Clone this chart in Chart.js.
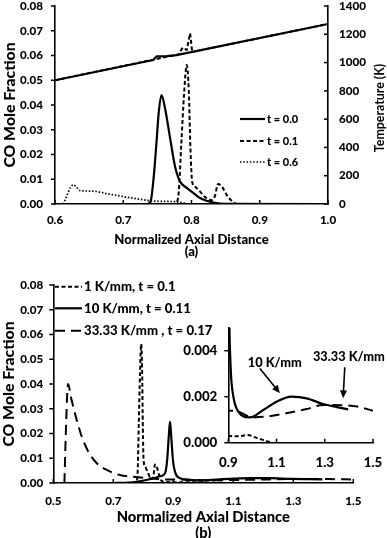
<!DOCTYPE html>
<html>
<head>
<meta charset="utf-8">
<script src="https://cdn.jsdelivr.net/npm/chart.js@4.4.1/dist/chart.umd.min.js"></script>
<style>
  html, body { margin: 0; padding: 0; background: #fff; }
  #wrap { position: relative; width: 387px; height: 538px; overflow: hidden; }
  canvas { position: absolute; }
</style>
</head>
<body>
<div id="wrap">
  <canvas id="chartA" width="387" height="262" style="left:0;top:0"></canvas>
  <canvas id="chartB" width="387" height="276" style="left:0;top:262px"></canvas>
  <canvas id="chartInset" width="227" height="168" style="left:160px;top:312px"></canvas>
</div>
<script>
// ---- panel (a): CO mole fraction vs normalized axial distance
const coX_t00 = [0.6, 0.735, 0.74, 0.745, 0.749, 0.752, 0.756, 0.761, 0.769, 0.776, 0.783, 0.793, 0.803, 0.8125, 0.822, 0.832, 0.85, 1.0];
const coY_t00 = [0, 0, 0.001, 0.012, 0.026, 0.037, 0.044, 0.039, 0.026, 0.015, 0.0092, 0.0065, 0.0044, 0.0024, 0.0013, 0.0006, 0.0001, 0];
const coX_t01 = [0.6, 0.776, 0.781, 0.785, 0.789, 0.793, 0.796, 0.7985, 0.801, 0.805, 0.8125, 0.822, 0.829, 0.834, 0.839, 0.845, 0.852, 0.86, 0.868, 1.0];
const coY_t01 = [0, 0, 0.004, 0.024, 0.044, 0.0562, 0.046, 0.022, 0.009, 0.007, 0.005, 0.0023, 0.0015, 0.003, 0.0081, 0.0068, 0.0035, 0.001, 0, 0];
const coX_t06 = [0.612, 0.627, 0.637, 0.656, 0.676, 0.70, 0.7245, 0.744, 0.778, 0.79];
const coY_t06 = [0, 0.0077, 0.0054, 0.0052, 0.0042, 0.003, 0.0019, 0.0012, 0.0009, 0.0004];

// ---- panel (a): temperature (K), right axis
const tempX_t00 = [0.6, 0.744, 0.749, 0.764, 0.778, 1.0];
const tempY_t00 = [875, 1018, 1044, 1046, 1053, 1273];
const tempX_t01 = [0.6, 0.781, 0.787, 0.793, 0.798, 0.801, 1.0];
const tempY_t01 = [875, 1058, 1106, 1089, 1207, 1075, 1273];

// ---- panel (b): three heating rates
const bX_1K = [0.7, 0.776, 0.781, 0.785, 0.789, 0.793, 0.796, 0.7985, 0.801, 0.805, 0.8125, 0.822, 0.829, 0.834, 0.839, 0.845, 0.852, 0.86, 0.875, 0.9, 0.94, 0.98, 1.02, 1.05, 1.08];
const bY_1K = [0, 0, 0.004, 0.024, 0.044, 0.0562, 0.046, 0.022, 0.009, 0.007, 0.005, 0.0023, 0.0015, 0.003, 0.0075, 0.0065, 0.0035, 0.001, 0.0004, 0.0003, 0.00028, 0.00033, 0.0002, 0.0001, 0];
const bX_10K = [0.7, 0.75, 0.778, 0.81, 0.833, 0.855, 0.867, 0.875, 0.88, 0.885, 0.889, 0.893, 0.897, 0.9, 0.905, 0.911, 0.921, 0.941, 0.99, 1.045, 1.10, 1.162, 1.225, 1.293, 1.35, 1.397];
const bY_10K = [0, 0.0002, 0.0005, 0.0012, 0.0019, 0.0027, 0.0032, 0.005, 0.01, 0.019, 0.0248, 0.019, 0.012, 0.008, 0.0048, 0.003, 0.002, 0.00135, 0.0011, 0.00142, 0.00178, 0.002, 0.00193, 0.00168, 0.00155, 0.00145];
const bX_33K = [0.537, 0.543, 0.549, 0.561, 0.578, 0.595, 0.617, 0.645, 0.678, 0.722, 0.767, 0.822, 0.878, 0.928, 1.0, 1.07, 1.14, 1.22, 1.293, 1.417, 1.5];
const bY_33K = [0, 0.025, 0.040, 0.0335, 0.0255, 0.0187, 0.0126, 0.008, 0.0053, 0.0032, 0.0025, 0.0019, 0.0014, 0.00139, 0.0011, 0.00115, 0.00128, 0.00145, 0.00164, 0.0016, 0.00139];

const labelsA = ["t = 0.0", "t = 0.1", "t = 0.6"];
const labelsB = ["1 K/mm, t = 0.1", "10 K/mm, t = 0.11", "33.33 K/mm , t = 0.17"];

const pts = (xs, ys) => xs.map((x, i) => ({ x, y: ys[i] }));

const WEIGHT = 900;
Chart.defaults.font.family = "Lato";
Chart.defaults.font.weight = WEIGHT;
Chart.defaults.color = "#000";

// font size that makes a string about as wide as it is in the original
const measureCtx = document.createElement("canvas").getContext("2d");
function fitFont(text, width) {
    measureCtx.font = WEIGHT + " 100px Lato";
    return Math.round(100 * width / measureCtx.measureText(text).width * 10) / 10;
}
const tickSize = fitFont("0.08", 23);
const insetTickSize = fitFont("0.004", 34);
const xTitleSizeA = fitFont("Normalized Axial Distance", 155);
const xTitleSizeB = fitFont("Normalized Axial Distance", 173);
const yTitleSize = fitFont("CO Mole Fraction", 125);
const tempTitleSize = fitFont("Temperature (K)", 89);
const keySizeA = fitFont("t = 0.0", 31);
const keySizeB = fitFont("10 K/mm, t = 0.11", 107);
const calloutSize = fitFont("33.33 K/mm", 72);

// pin the scale boxes so the plot areas land where the original ones are
function fixSize(w, h) {
    return scale => {
        if (w != null) scale.width = w;
        if (h != null) scale.height = h;
        scale.paddingLeft = 0;
        scale.paddingRight = 0;
        scale.paddingTop = 0;
        scale.paddingBottom = 0;
    };
}

const noGrid = { display: false, drawTicks: false };
const axisLine = { color: "#000", width: 1.6 };

// short tick marks; len > 0 points outward, len < 0 points into the plot
const tickMarks = {
    id: "tickMarks",
    afterDraw(chart, args, opts) {
        const ctx = chart.ctx;
        ctx.save();
        ctx.strokeStyle = "#000";
        ctx.lineWidth = 1.5;
        (opts.marks || []).forEach(m => {
            const s = chart.scales[m.id];
            s.ticks.forEach(t => {
                const p = s.getPixelForValue(t.value);
                ctx.beginPath();
                if (s.isHorizontal()) {
                    ctx.moveTo(p, s.top);
                    ctx.lineTo(p, s.top + m.len);
                } else if (s.position === "left") {
                    ctx.moveTo(s.right, p);
                    ctx.lineTo(s.right - m.len, p);
                } else {
                    ctx.moveTo(s.left, p);
                    ctx.lineTo(s.left + m.len, p);
                }
                ctx.stroke();
            });
        });
        ctx.restore();
    }
};

// legend drawn as line samples + text at fixed spots
const lineKey = {
    id: "lineKey",
    afterDraw(chart, args, opts) {
        if (!opts.items) return;
        const ctx = chart.ctx;
        ctx.save();
        ctx.font = WEIGHT + " " + opts.size + "px Lato";
        ctx.fillStyle = "#000";
        ctx.textBaseline = "middle";
        opts.items.forEach((it, i) => {
            const ds = chart.data.datasets[it.ds];
            const y = opts.y[i];
            ctx.strokeStyle = "#000";
            ctx.lineWidth = ds.borderWidth;
            ctx.setLineDash(ds.borderDash || []);
            ctx.beginPath();
            ctx.moveTo(opts.x0, y);
            ctx.lineTo(opts.x1, y);
            ctx.stroke();
            ctx.setLineDash([]);
            ctx.fillText(it.text, opts.tx, y);
        });
        ctx.restore();
    }
};

// rotated title for the right axis (reads bottom to top)
const sideTitle = {
    id: "sideTitle",
    afterDraw(chart, args, opts) {
        if (!opts.text) return;
        const ctx = chart.ctx;
        const a = chart.chartArea;
        ctx.save();
        ctx.font = "bold " + opts.size + "px Lato";
        ctx.fillStyle = "#000";
        ctx.textAlign = "center";
        ctx.textBaseline = "middle";
        ctx.translate(opts.x, (a.top + a.bottom) / 2 + (opts.dy || 0));
        ctx.rotate(-Math.PI / 2);
        ctx.fillText(opts.text, 0, 0);
        ctx.restore();
    }
};

// callout texts and arrows in the inset, placed in data units
const callouts = {
    id: "callouts",
    afterDraw(chart, args, opts) {
        if (!opts.items) return;
        const ctx = chart.ctx;
        const sx = chart.scales.x, sy = chart.scales.y;
        ctx.save();
        ctx.font = WEIGHT + " " + opts.size + "px Lato";
        ctx.fillStyle = "#000";
        ctx.strokeStyle = "#000";
        ctx.textAlign = "center";
        ctx.textBaseline = "middle";
        opts.items.forEach(c => {
            ctx.fillText(c.text, sx.getPixelForValue(c.tx), sy.getPixelForValue(c.ty));
            const x0 = sx.getPixelForValue(c.from[0]), y0 = sy.getPixelForValue(c.from[1]);
            const x1 = sx.getPixelForValue(c.to[0]), y1 = sy.getPixelForValue(c.to[1]);
            const ang = Math.atan2(y1 - y0, x1 - x0);
            const hl = 8, hw = 3.5;
            ctx.lineWidth = 1.6;
            ctx.beginPath();
            ctx.moveTo(x0, y0);
            ctx.lineTo(x1 - Math.cos(ang) * hl * 0.8, y1 - Math.sin(ang) * hl * 0.8);
            ctx.stroke();
            ctx.beginPath();
            ctx.moveTo(x1, y1);
            ctx.lineTo(x1 - Math.cos(ang) * hl - Math.sin(ang) * hw, y1 - Math.sin(ang) * hl + Math.cos(ang) * hw);
            ctx.lineTo(x1 - Math.cos(ang) * hl + Math.sin(ang) * hw, y1 - Math.sin(ang) * hl - Math.cos(ang) * hw);
            ctx.closePath();
            ctx.fill();
        });
        ctx.restore();
    }
};

const solid = { borderColor: "#000", borderWidth: 2.2, borderDash: [] };
const shortDash = { borderColor: "#000", borderWidth: 2, borderDash: [4, 2.5] };
const dotted = { borderColor: "#000", borderWidth: 1.7, borderDash: [1.5, 1.8] };
const longDash = { borderColor: "#000", borderWidth: 2, borderDash: [10, 6] };

const baseOptions = {
    responsive: false,
    animation: false,
    events: [],
    elements: {
        point: { radius: 0 },
        line: { cubicInterpolationMode: "monotone", borderJoinStyle: "round", fill: false }
    }
};

// ---------- panel (a)
new Chart(document.getElementById("chartA"), {
    type: "line",
    data: {
        datasets: [
            { label: labelsA[0], data: pts(coX_t00, coY_t00), yAxisID: "y", ...solid },
            { label: labelsA[1], data: pts(coX_t01, coY_t01), yAxisID: "y", ...shortDash },
            { label: labelsA[2], data: pts(coX_t06, coY_t06), yAxisID: "y", ...dotted },
            { label: "T " + labelsA[0], data: pts(tempX_t00, tempY_t00), yAxisID: "y1", ...solid, cubicInterpolationMode: "default", tension: 0 },
            { label: "T " + labelsA[1], data: pts(tempX_t01, tempY_t01), yAxisID: "y1", ...shortDash, cubicInterpolationMode: "default", tension: 0 }
        ]
    },
    options: {
        ...baseOptions,
        layout: { padding: { top: 6, left: 0, right: 0, bottom: 0 } },
        plugins: {
            legend: { display: false },
            tooltip: { enabled: false },
            tickMarks: { marks: [{ id: "x", len: -4 }, { id: "y", len: 4 }, { id: "y1", len: -4 }] },
            lineKey: {
                size: keySizeA, x0: 240, x1: 265, tx: 267, y: [119, 141, 162],
                items: [{ ds: 0, text: labelsA[0] }, { ds: 1, text: labelsA[1] }, { ds: 2, text: labelsA[2] }]
            },
            sideTitle: { text: "Temperature (K)", size: tempTitleSize, x: 380, dy: 3 }
        },
        scales: {
            x: {
                type: "linear", min: 0.6, max: 1.0,
                grid: noGrid, border: axisLine,
                ticks: { stepSize: 0.1, padding: 9, font: { size: tickSize }, callback: v => v.toFixed(1) },
                title: { display: true, text: ["Normalized Axial Distance", "(a)"], font: { size: xTitleSizeA, lineHeight: 12 / xTitleSizeA }, padding: { top: 0, bottom: 4 } },
                afterFit: fixSize(null, 58)
            },
            y: {
                position: "left", min: 0, max: 0.08,
                grid: noGrid, border: axisLine,
                ticks: { stepSize: 0.01, padding: 12, font: { size: tickSize }, callback: v => v.toFixed(2) },
                title: { display: true, text: "CO Mole Fraction", font: { size: yTitleSize, lineHeight: 1 }, padding: { top: 2, bottom: 0 } },
                afterFit: fixSize(55, null)
            },
            y1: {
                position: "right", min: 0, max: 1400,
                grid: noGrid, border: axisLine,
                ticks: { stepSize: 200, padding: 11, font: { size: tickSize }, callback: v => String(v) },
                afterFit: fixSize(59, null)
            }
        }
    },
    plugins: [tickMarks, lineKey, sideTitle]
});

// ---------- panel (b)
const datasetsB = () => [
    { label: labelsB[0], data: pts(bX_1K, bY_1K), ...shortDash },
    { label: labelsB[1], data: pts(bX_10K, bY_10K), ...solid },
    { label: labelsB[2], data: pts(bX_33K, bY_33K), ...longDash }
];

new Chart(document.getElementById("chartB"), {
    type: "line",
    data: { datasets: datasetsB() },
    options: {
        ...baseOptions,
        layout: { padding: { top: 23, left: 0, right: 33.7, bottom: 0 } },
        plugins: {
            legend: { display: false },
            tooltip: { enabled: false },
            tickMarks: { marks: [{ id: "x", len: -4 }, { id: "y", len: 4 }] },
            lineKey: {
                size: keySizeB, x0: 55, x1: 82, tx: 84, y: [24.7, 46.3, 68.7],
                items: [{ ds: 0, text: labelsB[0] }, { ds: 1, text: labelsB[1] }, { ds: 2, text: labelsB[2] }]
            }
        },
        scales: {
            x: {
                type: "linear", min: 0.5, max: 1.5,
                grid: noGrid, border: axisLine,
                ticks: { stepSize: 0.2, padding: 11, font: { size: tickSize }, callback: v => v.toFixed(1) },
                title: { display: true, text: ["Normalized Axial Distance", "(b)"], font: { size: xTitleSizeB, lineHeight: 16 / xTitleSizeB }, padding: { top: 0, bottom: -3 } },
                afterFit: fixSize(null, 55)
            },
            y: {
                position: "left", min: 0, max: 0.08,
                grid: noGrid, border: axisLine,
                ticks: { stepSize: 0.01, padding: 10, font: { size: tickSize }, callback: v => v.toFixed(2) },
                title: { display: true, text: "CO Mole Fraction", font: { size: yTitleSize, lineHeight: 1 }, padding: { top: 1, bottom: 0 } },
                afterFit: fixSize(53.3, null)
            }
        }
    },
    plugins: [tickMarks, lineKey]
});

// ---------- inset of panel (b)
new Chart(document.getElementById("chartInset"), {
    type: "line",
    data: { datasets: datasetsB() },
    options: {
        ...baseOptions,
        layout: { padding: { top: 15.7, left: 0, right: 14, bottom: 0 } },
        plugins: {
            legend: { display: false },
            tooltip: { enabled: false },
            tickMarks: { marks: [{ id: "x", len: -4 }, { id: "y", len: 4 }] },
            callouts: {
                size: calloutSize,
                items: [
                    { text: "10 K/mm", tx: 1.093, ty: 0.00347, from: [1.031, 0.00323], to: [1.114, 0.00215] },
                    { text: "33.33 K/mm", tx: 1.40, ty: 0.00373, from: [1.383, 0.00328], to: [1.376, 0.00193] }
                ]
            }
        },
        scales: {
            x: {
                type: "linear", min: 0.9, max: 1.5,
                grid: noGrid, border: axisLine,
                ticks: { stepSize: 0.2, padding: 12, font: { size: insetTickSize }, callback: v => v.toFixed(1) },
                afterFit: fixSize(null, 37.3)
            },
            y: {
                position: "left", min: 0, max: 0.005,
                grid: noGrid, border: axisLine,
                ticks: { stepSize: 0.002, includeBounds: false, padding: 11, font: { size: insetTickSize }, callback: v => v.toFixed(3) },
                afterFit: fixSize(68.3, null)
            }
        }
    },
    plugins: [tickMarks, callouts]
});
</script>
</body>
</html>
